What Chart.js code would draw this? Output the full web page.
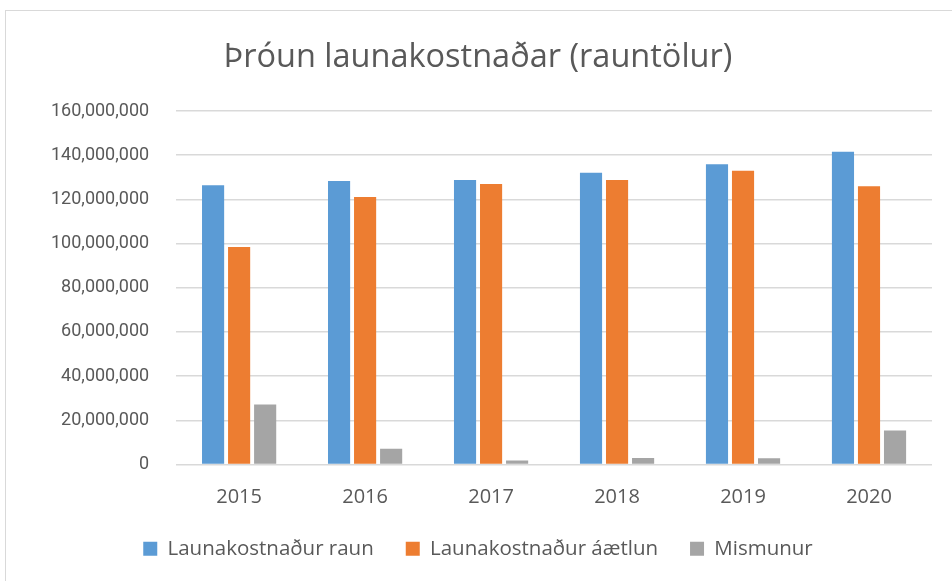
<!DOCTYPE html>
<html>
<head>
<meta charset="utf-8">
<script src="https://cdn.jsdelivr.net/npm/chart.js@4/dist/chart.umd.min.js"></script>
<style>
  html, body { margin: 0; padding: 0; background: #fff; }
  #frame { position: absolute; left: 5px; top: 10px; width: 960px; height: 600px; border: 1px solid #d9d9d9; }
  #wrap { position: absolute; left: 0; top: 0; width: 952px; height: 581px; }
</style>
</head>
<body>
<div id="frame"></div>
<div id="wrap"><canvas id="my_chart"></canvas></div>
<script>
// years on the x axis
var years = ['2015', '2016', '2017', '2018', '2019', '2020']
// Launakostnaður raun / áætlun / Mismunur (kr)
var raun    = [126400000, 128300000, 128800000, 132000000, 135900000, 141600000]
var aetlun  = [ 98400000, 121100000, 127000000, 128800000, 132900000, 125900000]
var mismunur = [27200000,   7100000,   1800000,   2900000,   2800000,  15400000]

var fontFam = "'Open Sans', sans-serif"

window.addEventListener("DOMContentLoaded", () => {
    var ctx = document.getElementById("my_chart")
    new Chart(ctx, {
        type: 'bar',
        data: {
            labels: years,
            datasets: [
                { label: 'Launakostnaður raun', data: raun, backgroundColor: '#5b9bd5' },
                { label: 'Launakostnaður áætlun', data: aetlun, backgroundColor: '#ed7d31' },
                { label: 'Mismunur', data: mismunur, backgroundColor: '#a5a5a5' }
            ]
        },
        options: {
            responsive: true,
            maintainAspectRatio: false,
            animation: false,
            datasets: { bar: { barPercentage: 0.85, categoryPercentage: 0.62 } },
            layout: { padding: { left: 24, right: 20, top: 22, bottom: 12 } },
            plugins: {
                title: {
                    display: true,
                    text: 'Þróun launakostnaðar (rauntölur)',
                    color: '#595959',
                    font: { family: fontFam, size: 32.5, weight: 'normal' },
                    padding: { top: 16, bottom: 34 }
                },
                legend: {
                    position: 'bottom',
                    labels: {
                        color: '#595959',
                        font: { family: fontFam, size: 20.5 },
                        boxWidth: 14, boxHeight: 14,
                        padding: 32
                    }
                },
                tooltip: { enabled: false }
            },
            scales: {
                x: {
                    clip: false,
                    grid: { display: false },
                    border: { display: false },
                    ticks: { color: '#595959', font: { family: fontFam, size: 20 }, padding: 13 },
                    afterFit: axis => { axis.height -= 16 }
                },
                y: {
                    min: 0, max: 160000000,
                    ticks: {
                        stepSize: 20000000,
                        color: '#595959',
                        font: { family: "Roboto, sans-serif", size: 18 },
                        padding: 27,
                        callback: v => v.toLocaleString('en-US')
                    },
                    grid: { color: '#d9d9d9', lineWidth: 1.5, drawTicks: false },
                    border: { display: false }
                }
            }
        }
    })
})
</script>
</body>
</html>
